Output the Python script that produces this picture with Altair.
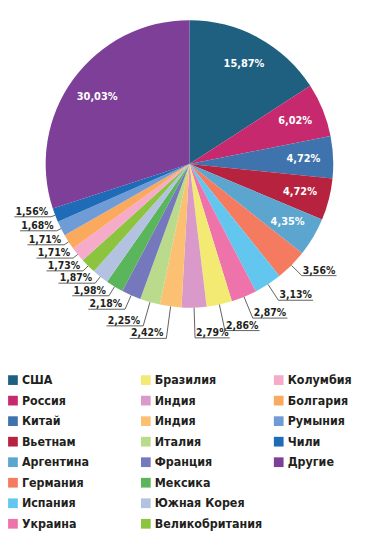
import altair as alt
import pandas as pd
import numpy as np

countries = ["США", "Россия", "Китай", "Вьетнам", "Аргентина", "Германия", "Испания",
             "Украина", "Бразилия", "Индия", "Индия ", "Италия", "Франция", "Мексика",
             "Южная Корея", "Великобритания", "Колумбия", "Болгария", "Румыния", "Чили", "Другие"]
shares = [15.87, 6.02, 4.72, 4.72, 4.35, 3.56, 3.13, 2.87, 2.86, 2.79, 2.42, 2.25, 2.18,
          1.98, 1.87, 1.73, 1.71, 1.71, 1.68, 1.56, 30.03]
colors = ["#1f5f80", "#c7296e", "#3f73ad", "#b7233f", "#5ba5cf", "#f47b60", "#62c6ee",
          "#ee73ab", "#f3ea73", "#d99ac9", "#fcc072", "#bbdb8c", "#7578bd", "#5bb55a",
          "#b3c2e1", "#8cc43f", "#f5abc9", "#fba95c", "#6f9bd6", "#1e6bb8", "#7d3f98"]
inside_labels = [0, 1, 2, 3, 4, 20]

FONT = "DejaVu Sans Condensed"
TXT = "#231f20"
W, H = 356, 530
CX, CY, R = 180, 155, 145
R_IN = 115

vals = np.array(shares)
total = vals.sum()
cum = np.concatenate([[0], np.cumsum(vals)[:-1]])
mid = (cum + vals / 2) / total * 2 * np.pi
labels = [f"{v:.2f}".replace(".", ",") + "%" for v in shares]

pie = pd.DataFrame({"country": countries, "share": shares, "idx": range(len(shares))})

# inner labels
ins = pd.DataFrame({
    "label": [labels[i] for i in inside_labels],
    "x": [CX + R_IN * np.sin(mid[i]) for i in inside_labels],
    "y": [CY - R_IN * np.cos(mid[i]) for i in inside_labels],
})

# outer labels with leader lines
deg = np.degrees(mid)
lead = np.interp(deg, [130, 185, 190, 205, 215, 230, 255], [13, 33, 32, 14, 9, 6, 4])
rows_r, rows_l, line_rows = [], [], []
for i in range(len(shares)):
    if i in inside_labels:
        continue
    ex, ey = CX + R * np.sin(mid[i]), CY - R * np.cos(mid[i])
    bx, by = CX + (R + lead[i]) * np.sin(mid[i]), CY - (R + lead[i]) * np.cos(mid[i])
    if deg[i] < 180.5:
        fx = bx + 35
        rows_r.append({"label": labels[i], "x": bx + 1, "y": by - 2})
    else:
        fx = bx - 37
        rows_l.append({"label": labels[i], "x": bx - 3, "y": by - 2})
    for k, (px, py) in enumerate([(ex, ey), (bx, by), (fx, by)]):
        line_rows.append({"lid": i, "pt": k, "x": px, "y": py})
out_r = pd.DataFrame(rows_r)
out_l = pd.DataFrame(rows_l)
lines = pd.DataFrame(line_rows)

# legend: 3 columns of 8 rows, filled column by column
LX, LY, COLW, ROWH = 2, 373, 134, 20.7
leg = pd.DataFrame({
    "country": countries,
    "name": [c.strip() for c in countries],
    "sx": [LX + (i // 8) * COLW for i in range(len(countries))],
    "tx": [LX + (i // 8) * COLW + 9 for i in range(len(countries))],
    "y": [LY + (i % 8) * ROWH for i in range(len(countries))],
})

xs = alt.Scale(domain=[0, W], range=[0, W])
ys = alt.Scale(domain=[0, H], range=[0, H])
cs = alt.Scale(domain=countries, range=colors)

arcs = alt.Chart(pie).mark_arc(outerRadius=R).encode(
    theta=alt.Theta("share:Q", stack=True),
    order=alt.Order("idx:Q"),
    color=alt.Color("country:N", scale=cs, legend=None),
    x=alt.value(CX), y=alt.value(CY),
)

inner = alt.Chart(ins).mark_text(color="white", font=FONT, fontSize=11, fontWeight="bold").encode(
    x=alt.X("x:Q", scale=xs, axis=None), y=alt.Y("y:Q", scale=ys, axis=None), text="label:N")

leaders = alt.Chart(lines).mark_line(color="#3a3a3a", strokeWidth=0.8).encode(
    x=alt.X("x:Q", scale=xs, axis=None), y=alt.Y("y:Q", scale=ys, axis=None),
    detail="lid:N", order="pt:Q")

txt_r = alt.Chart(out_r).mark_text(color=TXT, font=FONT, fontSize=10.5, fontWeight="bold",
                                   align="left", baseline="alphabetic").encode(
    x=alt.X("x:Q", scale=xs, axis=None), y=alt.Y("y:Q", scale=ys, axis=None), text="label:N")
txt_l = alt.Chart(out_l).mark_text(color=TXT, font=FONT, fontSize=10.5, fontWeight="bold",
                                   align="right", baseline="alphabetic").encode(
    x=alt.X("x:Q", scale=xs, axis=None), y=alt.Y("y:Q", scale=ys, axis=None), text="label:N")

leg_sym = alt.Chart(leg).mark_square(size=96, opacity=1).encode(
    x=alt.X("sx:Q", scale=xs, axis=None), y=alt.Y("y:Q", scale=ys, axis=None),
    color=alt.Color("country:N", scale=cs, legend=None))
leg_txt = alt.Chart(leg).mark_text(color=TXT, font=FONT, fontSize=12.5, fontWeight="bold",
                                   align="left", baseline="middle").encode(
    x=alt.X("tx:Q", scale=xs, axis=None), y=alt.Y("y:Q", scale=ys, axis=None), text="name:N")

chart = alt.layer(arcs, leaders, inner, txt_r, txt_l, leg_sym, leg_txt).properties(
    width=W, height=H, padding=0
).configure_view(stroke=None)

chart.save("out.html", embed_options={"renderer": "svg", "actions": False})
